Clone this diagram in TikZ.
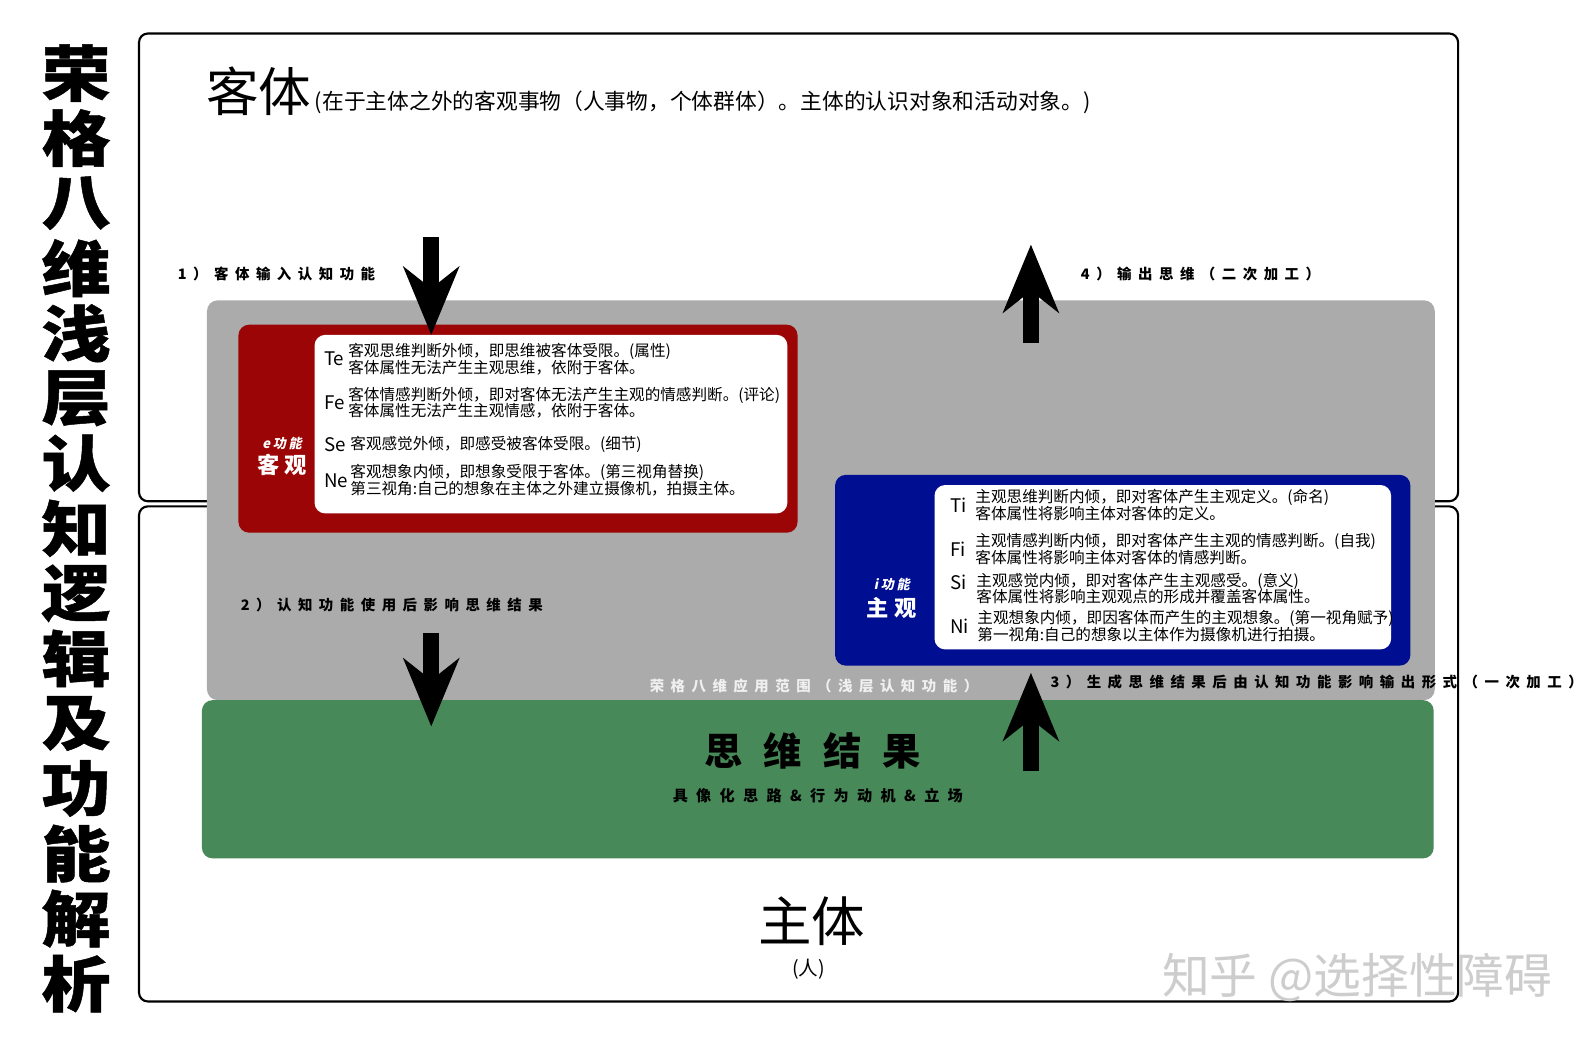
\documentclass[tikz,border=0pt]{standalone}
\usepackage{fontspec}
\usetikzlibrary{arrows.meta,positioning}
\setmainfont{Noto Sans CJK SC}
\newfontfamily\cjk{Noto Sans CJK SC}
\newfontfamily\cjkheavy[FakeBold=0.8,FakeStretch=1.14]{Noto Sans CJK SC}
\newfontfamily\cjkls[LetterSpace=45]{Noto Sans CJK SC}
\newfontfamily\cjkwide[LetterSpace=55]{Noto Sans CJK SC}
\newfontfamily\cjktag[LetterSpace=25]{Noto Sans CJK SC}
\newfontfamily\cjkslant[FakeSlant=0.2,LetterSpace=20]{Noto Sans CJK SC}

\definecolor{objred}{RGB}{155,5,5}
\definecolor{subjblue}{RGB}{0,14,145}
\definecolor{scopegray}{RGB}{171,171,171}
\definecolor{resultgreen}{RGB}{71,137,89}
\definecolor{markgray}{RGB}{205,205,205}

\tikzset{
  outerframe/.style={draw=black,line width=1.2pt,rounded corners=5pt},
  panel/.style={rounded corners=6pt},
  bigarrow/.style={line width=9pt,-{Stealth[length=38pt,width=31pt,inset=12pt]}},
  steplabel/.style={font=\cjkls\bfseries\fontsize{8.1}{9}\selectfont,inner sep=0pt,anchor=west},
  fkey/.style={font=\cjk\fontsize{10.5}{12}\selectfont,inner sep=0pt,anchor=west},
  fdesc/.style={font=\cjk\fontsize{8.75}{9.4}\selectfont,inner sep=0pt,anchor=west,align=left},
  titlechar/.style={font=\cjkheavy\bfseries\fontsize{34}{36}\selectfont,inner sep=0pt},
}

\begin{document}
\begin{tikzpicture}[x=0.02cm,y=-0.02cm]
\useasboundingbox[fill=white] (0,0) rectangle (1568,1028);

% title column
\foreach \ch [count=\i from 0] in {荣,格,八,维,浅,层,认,知,逻,辑,及,功,能,解,析}
  \node[titlechar] (title\i) at (75,{72+64.1*\i}) {\ch};

% object / subject frames
\draw[outerframe] (137,33) rectangle (1437,494);
\draw[outerframe] (137,499) rectangle (1437,987);

% panels
\fill[panel,scopegray] (204,296) rectangle (1414,690);
\fill[panel,objred] (235,320) rectangle (786,525);
\fill[panel,white] (310,330) rectangle (776,506);
\fill[panel,subjblue] (823,468) rectangle (1390,656);
\fill[panel,white] (921,478) rectangle (1371,640);
\fill[panel,resultgreen] (199,690) rectangle (1413,846);

% headings
\node[font=\cjk\fontsize{29.5}{32}\selectfont,inner sep=0pt,anchor=west] (objtitle) at (203,90) {客体};
\node[font=\cjk\fontsize{12.2}{13}\selectfont,inner sep=0pt,anchor=west] (objnote) at (310,101)
  {(在于主体之外的客观事物（人事物，个体群体）。主体的认识对象和活动对象。)};
\node[font=\cjk\fontsize{30}{32}\selectfont,inner sep=0pt] (subjtitle) at (800,908) {主体};
\node[font=\cjk\fontsize{11}{12}\selectfont,inner sep=0pt] (subjnote) at (797,955) {(人)};

% step labels
\node[steplabel] (step1) at (175,270) {1）客体输入认知功能};
\node[steplabel] (step2) at (237,596) {2）认知功能使用后影响思维结果};
\node[steplabel] (step3) at (1035,672) {3）生成思维结果后由认知功能影响输出形式（一次加工）};
\node[steplabel] (step4) at (1065,270) {4）输出思维（二次加工）};
\node[steplabel,text=white!94!black] (scope) at (640,676) {荣格八维应用范围（浅层认知功能）};

% extraverted functions
\node[font=\cjkslant\bfseries\fontsize{7.4}{8}\selectfont,text=white,inner sep=0pt] (etag) at (278,437) {e功能};
\node[font=\cjktag\bfseries\fontsize{12.5}{14}\selectfont,text=white,inner sep=0pt] (ename) at (278,458) {客观};
\node[fkey] (te) at (319,354) {Te};
\node[fdesc] (tedesc) at (343,354) {客观思维判断外倾，即思维被客体受限。(属性)\\客体属性无法产生主观思维，依附于客体。};
\node[fkey] (fe) at (319,397) {Fe};
\node[fdesc] (fedesc) at (343,397) {客体情感判断外倾，即对客体无法产生主观的情感判断。(评论)\\客体属性无法产生主观情感，依附于客体。};
\node[fkey] (se) at (319,438) {Se};
\node[fdesc] (sedesc) at (345,438) {客观感觉外倾，即感受被客体受限。(细节)};
\node[fkey] (ne) at (319,474) {Ne};
\node[fdesc] (nedesc) at (345,473) {客观想象内倾，即想象受限于客体。(第三视角替换)\\第三视角:自己的想象在主体之外建立摄像机，拍摄主体。};

% introverted functions
\node[font=\cjkslant\bfseries\fontsize{7.4}{8}\selectfont,text=white,inner sep=0pt] (itag) at (879,576) {i功能};
\node[font=\cjktag\bfseries\fontsize{12.5}{14}\selectfont,text=white,inner sep=0pt] (iname) at (879,599) {主观};
\node[fkey] (ti) at (936,498) {Ti};
\node[fdesc] (tidesc) at (961,498) {主观思维判断内倾，即对客体产生主观定义。(命名)\\客体属性将影响主体对客体的定义。};
\node[fkey] (fi) at (936,541) {Fi};
\node[fdesc] (fidesc) at (961,541) {主观情感判断内倾，即对客体产生主观的情感判断。(自我)\\客体属性将影响主体对客体的情感判断。};
\node[fkey] (si) at (936,574) {Si};
\node[fdesc] (sidesc) at (962,580) {主观感觉内倾，即对客体产生主观感受。(意义)\\客体属性将影响主观观点的形成并覆盖客体属性。};
\node[fkey] (ni) at (936,617) {Ni};
\node[fdesc] (nidesc) at (963,617) {主观想象内倾，即因客体而产生的主观想象。(第一视角赋予)\\第一视角:自己的想象以主体作为摄像机进行拍摄。};

% result
\node[font=\cjkwide\bfseries\fontsize{21.5}{24}\selectfont,inner sep=0pt] (result) at (801,740) {思维结果};
\node[font=\cjkwide\bfseries\fontsize{8.5}{10}\selectfont,inner sep=0pt] (resultnote) at (806,784) {具像化思路\&行为动机\&立场};

% arrows
\coordinate (in1) at (425,234);
\coordinate (in1end) at (425,330);
\coordinate (in2) at (425,624);
\coordinate (in2end) at (425,716);
\coordinate (out3) at (1016,760);
\coordinate (out3end) at (1016,663);
\coordinate (out4) at (1016,338);
\coordinate (out4end) at (1016,241);
\draw[bigarrow] (in1) -- (in1end);
\draw[bigarrow] (in2) -- (in2end);
\draw[bigarrow] (out3) -- (out3end);
\draw[bigarrow] (out4) -- (out4end);

% watermark
\node[font=\cjk\fontsize{26.8}{28}\selectfont,text=markgray,inner sep=0pt,anchor=west] (mark) at (1145,963) {知乎 @选择性障碍};
\end{tikzpicture}
\end{document}
